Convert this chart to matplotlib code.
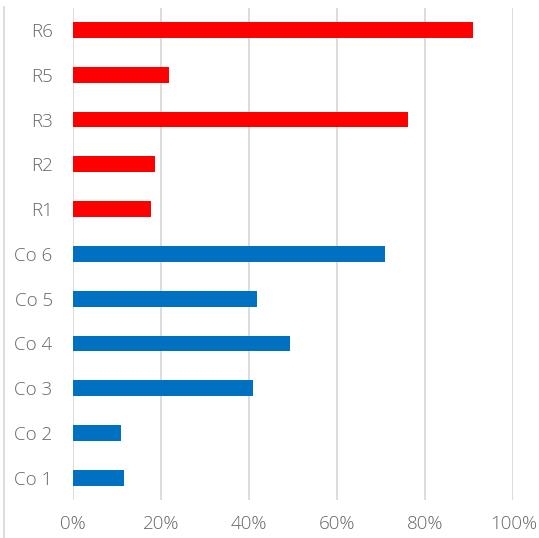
import matplotlib
matplotlib.use("Agg")
import matplotlib.pyplot as plt
from matplotlib.lines import Line2D

categories = ["Co 1", "Co 2", "Co 3", "Co 4", "Co 5", "Co 6", "R1", "R2", "R3", "R5", "R6"]
values = [11.6, 10.9, 40.9, 49.3, 41.8, 70.9, 17.8, 18.7, 76.1, 21.8, 90.9]
groups = ["Co", "Co", "Co", "Co", "Co", "Co", "R", "R", "R", "R", "R"]
x_ticks = [0, 20, 40, 60, 80, 100]
x_tick_labels = ["0%", "20%", "40%", "60%", "80%", "100%"]

colors = {"Co": "#0070C0", "R": "#FF0000"}

plt.rcParams['font.family'] = ['Open Sans', 'DejaVu Sans']

fig = plt.figure(figsize=(5.39, 5.38), dpi=100)
ax = fig.add_axes([72.8 / 539, 1 - 500.2 / 538, 440.5 / 539, (500.2 - 7.6) / 538])

ypos = list(range(len(categories)))
ax.barh(ypos, values, height=0.35, color=[colors[g] for g in groups], zorder=3)

ax.set_xlim(0, 100)
ax.set_ylim(-0.5, len(categories) - 0.5)
ax.set_xticks(x_ticks)
ax.set_xticklabels(x_tick_labels)
ax.set_yticks(ypos)
ax.set_yticklabels(categories)

ax.grid(axis='x', color='#D9D9D9', linewidth=1.3, zorder=0)
ax.grid(axis='y', visible=False)
for s in ax.spines.values():
    s.set_visible(False)

ax.tick_params(axis='both', length=0, labelsize=13.5, labelcolor='#666666')
ax.tick_params(axis='y', pad=14.5)
ax.tick_params(axis='x', pad=11)
for lbl in ax.get_xticklabels() + ax.get_yticklabels():
    lbl.set_fontweight(300)

fig.add_artist(Line2D([4 / 539, 4 / 539], [0, 1 - 7 / 538], transform=fig.transFigure,
                      color='#D9D9D9', linewidth=1.3))

fig.savefig("out.png", dpi=100, facecolor='white')
